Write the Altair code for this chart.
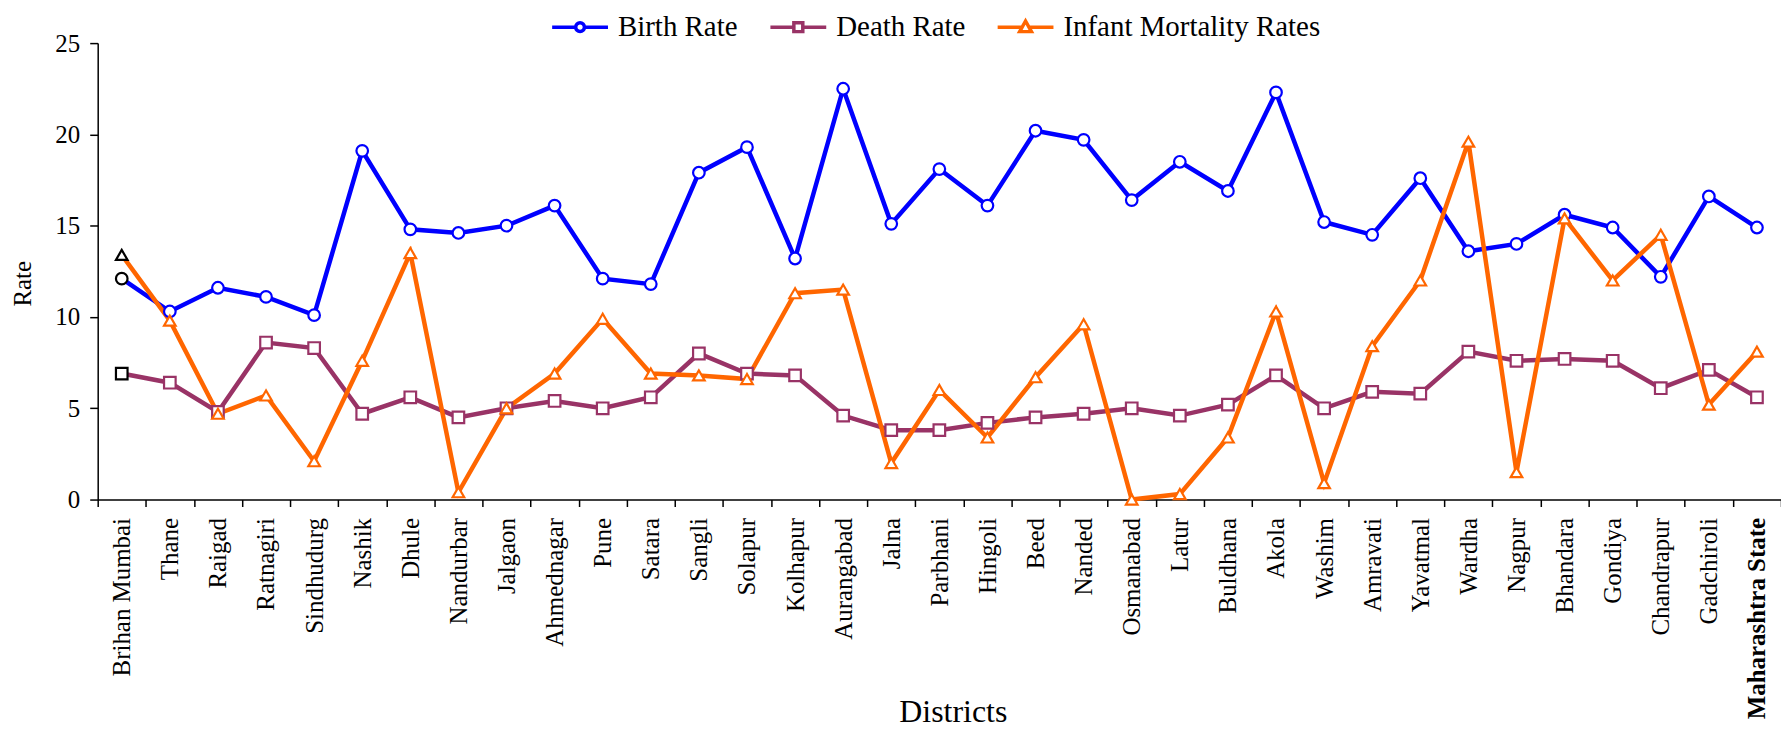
import altair as alt
import pandas as pd

districts = ["Brihan Mumbai", "Thane", "Raigad", "Ratnagiri", "Sindhudurg", "Nashik", "Dhule",
             "Nandurbar", "Jalgaon", "Ahmednagar", "Pune", "Satara", "Sangli", "Solapur",
             "Kolhapur", "Aurangabad", "Jalna", "Parbhani", "Hingoli", "Beed", "Nanded",
             "Osmanabad", "Latur", "Buldhana", "Akola", "Washim", "Amravati", "Yavatmal",
             "Wardha", "Nagpur", "Bhandara", "Gondiya", "Chandrapur", "Gadchiroli",
             "Maharashtra State"]

birth_rate = [12.1, 10.3, 11.6, 11.1, 10.1, 19.1, 14.8, 14.6, 15.0, 16.1, 12.1, 11.8, 17.9,
              19.3, 13.2, 22.5, 15.1, 18.1, 16.1, 20.2, 19.7, 16.4, 18.5, 16.9, 22.3, 15.2,
              14.5, 17.6, 13.6, 14.0, 15.6, 14.9, 12.2, 16.6, 14.9]

death_rate = [6.9, 6.4, 4.8, 8.6, 8.3, 4.7, 5.6, 4.5, 5.0, 5.4, 5.0, 5.6, 8.0, 6.9, 6.8,
              4.6, 3.8, 3.8, 4.2, 4.5, 4.7, 5.0, 4.6, 5.2, 6.8, 5.0, 5.9, 5.8, 8.1, 7.6,
              7.7, 7.6, 6.1, 7.1, 5.6]

infant_mortality = [13.4, 9.8, 4.7, 5.7, 2.1, 7.6, 13.5, 0.4, 5.0, 6.9, 9.9, 6.9, 6.8, 6.6,
                    11.3, 11.5, 2.0, 6.0, 3.4, 6.7, 9.6, 0.0, 0.3, 3.4, 10.3, 0.9, 8.4, 12.0,
                    19.6, 1.5, 15.4, 12.0, 14.5, 5.2, 8.1]

series_names = ["Birth Rate", "Death Rate", "Infant Mortality Rates"]
series_colors = ["#0000FF", "#993366", "#FF6600"]
marker_shapes = ["circle", "square", "triangle-up"]
legend_shapes = [
    "M-1,0L-0.155,0M0.155,0L1,0M-0.155,0A0.155,0.155,0,1,0,0.155,0A0.155,0.155,0,1,0,-0.155,0Z",
    "M-1,0L-0.16,0M0.16,0L1,0M-0.16,-0.16L0.16,-0.16L0.16,0.16L-0.16,0.16Z",
    "M-1,0L-0.12,0M0.12,0L1,0M0,-0.22L0.21,0.16L-0.21,0.16Z",
]

rows = []
for name, vals in zip(series_names, [birth_rate, death_rate, infant_mortality]):
    for i, (d, v) in enumerate(zip(districts, vals)):
        rows.append({"district": d, "series": name, "value": v, "order": i})
df = pd.DataFrame(rows)

FONT = "Liberation Serif"

x_enc = alt.X(
    "district:N",
    sort=districts,
    scale=alt.Scale(type="band", paddingInner=0, paddingOuter=0),
    axis=alt.Axis(
        title="Districts",
        titleFont=FONT,
        titleFontSize=32,
        titleFontWeight="normal",
        titleX=858,
        titleY=223,
        titleBaseline="alphabetic",
        labelFont=FONT,
        labelAngle=-90,
        labelAlign="right",
        labelBaseline="middle",
        labelFontSize=25,
        labelPadding=11,
        labelFontWeight=alt.ExprRef("datum.value == 'Maharashtra State' ? 'bold' : 'normal'"),
        tickBand="extent",
        tickSize=7,
        labelLimit=400,
    ),
)
y_enc = alt.Y(
    "value:Q",
    scale=alt.Scale(domain=[0, 25], nice=False),
    axis=alt.Axis(
        title="Rate",
        titleFont=FONT,
        titleFontSize=25,
        titleFontWeight="normal",
        titleX=-75,
        titleY=241,
        titleBaseline="middle",
        values=[0, 5, 10, 15, 20, 25],
        labelFont=FONT,
        labelFontSize=25,
        labelPadding=10,
        tickSize=8,
        grid=False,
    ),
)

color_scale = alt.Scale(domain=series_names, range=series_colors)

lines = alt.Chart(df).mark_line(strokeWidth=4.5).encode(
    x=x_enc,
    y=y_enc,
    color=alt.Color("series:N", scale=color_scale, legend=None),
    detail="series:N",
    order="order:Q",
)

points = alt.Chart(df).mark_point(filled=False, fill="white", fillOpacity=1, opacity=1,
                                  strokeWidth=2.2, size=135).encode(
    x=x_enc,
    y=y_enc,
    shape=alt.Shape("series:N", scale=alt.Scale(domain=series_names, range=marker_shapes),
                    legend=None),
    stroke=alt.condition(
        "datum.district == 'Brihan Mumbai'",
        alt.value("black"),
        alt.Stroke("series:N", scale=color_scale, legend=None),
    ),
)

legend_props = dict(
    title=None,
    orient="none",
    direction="horizontal",
    legendX=454,
    legendY=-46,
    labelFontSize=29,
    labelFont=FONT,
    labelOffset=8,
    columnPadding=25,
    symbolSize=3136,
    symbolStrokeWidth=3.5,
    symbolFillColor="white",
    symbolOpacity=1,
    labelLimit=500,
    padding=0,
)

legend_layer = alt.Chart(df).transform_filter("false").mark_point(
    filled=False, fill="white", fillOpacity=1, opacity=1, strokeWidth=3.5, size=3136
).encode(
    x=x_enc,
    y=y_enc,
    color=alt.Color(
        "series:N",
        scale=alt.Scale(domain=series_names, range=series_colors),
        legend=alt.Legend(**legend_props),
    ),
    shape=alt.Shape(
        "series:N",
        scale=alt.Scale(domain=series_names, range=legend_shapes),
        legend=alt.Legend(**legend_props),
    ),
)

chart = (
    alt.layer(lines, points, legend_layer)
    .resolve_scale(color="independent", shape="independent", stroke="independent")
    .properties(
        width=1689,
        height=458,
        autosize=alt.AutoSizeParams(type="none"),
        padding={"left": 90, "top": 34, "right": 0, "bottom": 229},
    )
    .configure(font=FONT)
    .configure_view(stroke=None)
    .configure_axis(
        labelFont=FONT,
        titleFont=FONT,
        labelColor="black",
        titleColor="black",
        domainColor="black",
        tickColor="black",
        domainWidth=1.5,
        tickWidth=1.5,
        grid=False,
    )
)

chart.save("out.html", embed_options={"renderer": "svg", "actions": False})
